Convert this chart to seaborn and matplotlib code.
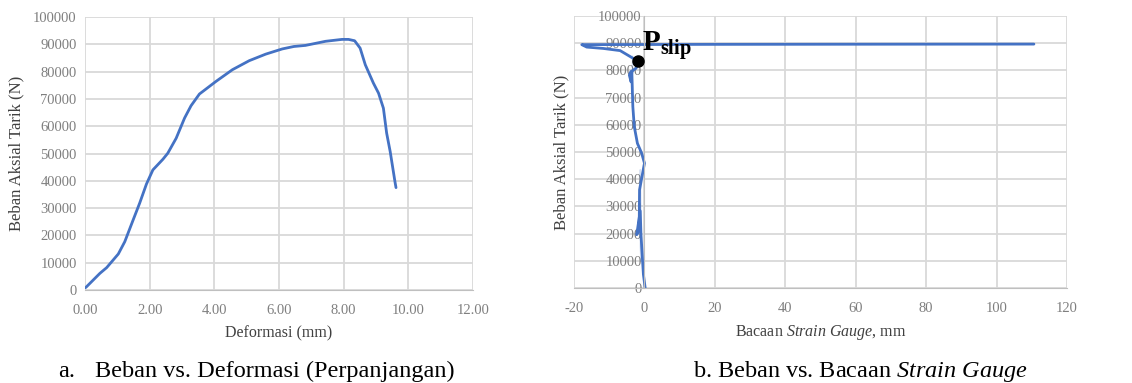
import matplotlib
matplotlib.use("Agg")
import matplotlib.pyplot as plt
import seaborn as sns
import pandas as pd

# a. load vs deformation
deformasi = [0.00, 0.03, 0.46, 0.67, 1.03, 1.23, 1.49, 1.69, 1.90, 2.10, 2.41, 2.56,
             2.82, 3.08, 3.28, 3.54, 3.74, 4.05, 4.56, 5.08, 5.59, 6.10, 6.46, 6.82,
             7.44, 7.95, 8.15, 8.34, 8.51, 8.67, 8.92, 9.08, 9.23, 9.33, 9.44, 9.59, 9.62]
beban_a = [800, 1000, 6100, 8200, 13200, 17700, 25700, 31800, 38800, 44000, 47900, 50100,
           55600, 63000, 67500, 71800, 73600, 76400, 80700, 84000, 86400, 88300, 89200, 89600,
           91100, 91800, 91800, 91300, 88600, 82500, 75800, 72100, 66600, 57500, 50700, 39500, 37500]

# b. load vs strain gauge reading
strain = [0.2, -0.3, -1.0, -1.2, -2.2, -1.5, -1.2, -1.0, -1.4, -1.2, 0.0, -0.8,
          -2.0, -2.9, -3.3, -3.6, -3.8, -4.3, -3.9, -2.4, -1.7, -3.6, -6.9, -11.7,
          -16.4, -17.8, 20.0, 60.0, 110.6]
beban_b = [0, 5000, 9800, 15300, 19600, 21400, 26300, 30000, 36100, 43500, 45900, 49600,
           53200, 59400, 66700, 73400, 75800, 78300, 79500, 80800, 83300, 85800, 87300, 88100,
           88600, 89500, 89600, 89650, 89700]
p_slip = (-1.8, 83300)

y_ticks = list(range(0, 100001, 10000))
xa_ticks = [0, 2, 4, 6, 8, 10, 12]
xb_ticks = [-20, 0, 20, 40, 60, 80, 100, 120]

sns.set_style("whitegrid")
plt.rcParams['font.family'] = ['Liberation Serif', 'DejaVu Serif']
plt.rcParams['mathtext.fontset'] = 'custom'
plt.rcParams['mathtext.bf'] = 'Liberation Serif:bold'
plt.rcParams['mathtext.rm'] = 'Liberation Serif'
plt.rcParams['mathtext.it'] = 'Liberation Serif:italic'
plt.rcParams['axes.unicode_minus'] = False

blue = '#4472C4'
grid_c = '#d9d9d9'
tick_c = '#7f7f7f'
lab_c = '#404040'

fig = plt.figure(figsize=(11.32, 3.83), dpi=100)
ax1 = fig.add_axes([0.0751, 0.2428, 0.3427, 0.7128])
ax2 = fig.add_axes([0.5071, 0.248, 0.4355, 0.710])

df_a = pd.DataFrame({'x': deformasi, 'y': beban_a})
df_b = pd.DataFrame({'x': strain, 'y': beban_b})

sns.lineplot(data=df_a, x='x', y='y', sort=False, ax=ax1, color=blue, linewidth=2)
sns.lineplot(data=df_b, x='x', y='y', sort=False, ax=ax2, color=blue, linewidth=2)
ax2.plot(*p_slip, 'o', color='black', markersize=8, zorder=5)
ax2.text(-0.6, 87300, r'$\mathbf{P_{slip}}$', fontsize=21, color='black', zorder=6)

for ax in (ax1, ax2):
    ax.set_yticks(y_ticks)
    ax.set_ylim(0, 100000)
    ax.grid(True, color=grid_c, linewidth=1.3)
    for s in ax.spines.values():
        s.set_visible(False)
    ax.spines['bottom'].set_visible(True)
    ax.spines['bottom'].set_color('#bfbfbf')
    ax.tick_params(axis='both', length=0, labelsize=10.5, labelcolor=tick_c)
    ax.tick_params(axis='x', pad=10)
    ax.tick_params(axis='y', pad=6)
    ax.set_ylabel('Beban Aksial Tarik (N)', fontsize=12, color=lab_c)

ax1.set_xticks(xa_ticks)
ax1.set_xticklabels([f'{v:.2f}' for v in xa_ticks])
ax1.set_xlim(0, 12)
ax1.set_xlabel('Deformasi (mm)', fontsize=11.5, color=lab_c, labelpad=6)
ax1.yaxis.set_label_coords(-0.155, 0.5)

ax2.set_xticks(xb_ticks)
ax2.set_xlim(-20, 120)
ax2.set_xlabel(r'Bacaan $\it{Strain\ Gauge}$, mm', fontsize=11.5, color=lab_c, labelpad=6)
ax2.spines['left'].set_visible(True)
ax2.spines['left'].set_position(('data', 0))
ax2.spines['left'].set_color('#bfbfbf')
ax2.tick_params(axis='y', pad=2)
ax2.yaxis.set_label_coords(-0.01, 0.5)

fig.text(0.0512, 0.015, 'a.', ha='left', fontsize=17.5, color='black')
fig.text(0.084, 0.015, 'Beban vs. Deformasi (Perpanjangan)', ha='left', fontsize=17.5, color='black')
fig.text(0.612, 0.015, r'b. Beban vs. Bacaan $\it{Strain\ Gauge}$', ha='left', fontsize=17.5, color='black')

fig.savefig('out.png', dpi=100)
